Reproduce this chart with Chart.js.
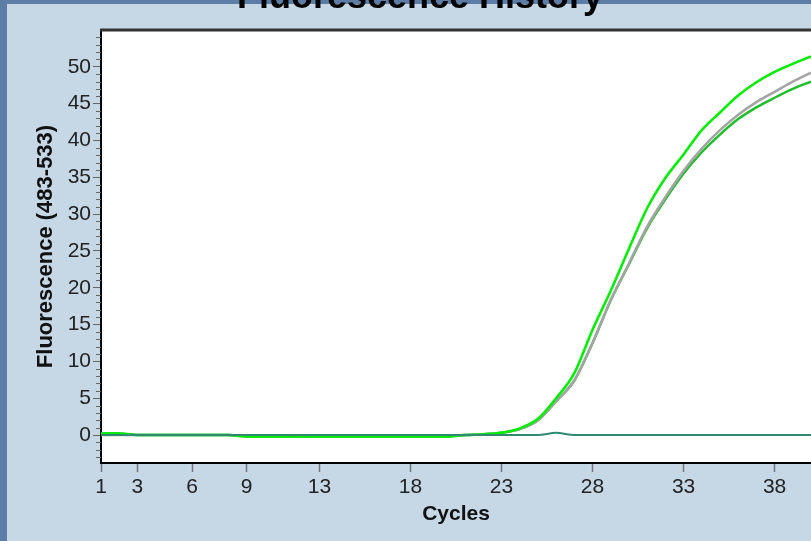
<!DOCTYPE html>
<html>
<head>
<meta charset="utf-8">
<script src="https://cdn.jsdelivr.net/npm/chart.js@4/dist/chart.umd.min.js"></script>
<style>
  html, body { margin: 0; padding: 0; background: #c6d7e6; }
  #wrap { width: 811px; height: 541px; }
</style>
</head>
<body>
<div id="wrap"><canvas id="fluoChart" width="811" height="541"></canvas></div>
<script>
// amplification curves, one value per cycle
const cycles = [];
for (let c = 1; c <= 40; c++) cycles.push(c);

const sampleA = [0.2, 0.2, 0, 0, 0, 0, 0, 0, -0.2, -0.2,
    -0.2, -0.2, -0.2, -0.2, -0.2, -0.2, -0.2, -0.2, -0.2, -0.2,
    0, 0.1, 0.3, 0.9, 2.2, 5.0, 8.4, 14.3, 19.6, 25.3,
    30.8, 34.9, 38.1, 41.4, 43.8, 46.1, 47.9, 49.3, 50.4, 51.4];
const sampleB = [0, 0, 0, 0, 0, 0, 0, 0, -0.1, -0.1,
    -0.1, -0.2, -0.1, -0.1, -0.1, -0.1, -0.1, -0.1, -0.1, -0.1,
    0, 0.1, 0.3, 0.8, 2.0, 4.6, 7.4, 12.5, 18.3, 23.3,
    28.3, 32.3, 35.9, 38.9, 41.4, 43.5, 45.2, 46.6, 48.0, 49.2];
const sampleC = [0.2, 0.2, 0, 0, 0, 0, 0, 0, -0.2, -0.2,
    -0.2, -0.2, -0.2, -0.2, -0.2, -0.2, -0.2, -0.2, -0.2, -0.2,
    0, 0.1, 0.3, 0.8, 2.0, 4.6, 7.4, 12.5, 18.3, 23.2,
    28.1, 32.0, 35.5, 38.4, 40.8, 42.9, 44.5, 45.8, 47.0, 48.0];
const negControl = [0, 0, 0, 0, 0, 0, 0, 0, 0, 0,
    0, 0, 0, 0, 0, 0, 0, 0, 0, 0,
    0, 0, 0, 0, 0, 0.3, 0, 0, 0, 0,
    0, 0, 0, 0, 0, 0, 0, 0, 0, 0];

const xTicks = [1, 3, 6, 9, 13, 18, 23, 28, 33, 38];
const yTicks = [0, 5, 10, 15, 20, 25, 30, 35, 40, 45, 50];

const FONT = "'Liberation Sans', Arial, sans-serif";

const toPoints = arr => arr.map((v, i) => ({ x: cycles[i], y: v }));

// panel background, title, plot frame and minor ticks
const panelPlugin = {
    id: 'panel',
    beforeDraw(chart) {
        const { ctx, chartArea: a, width, height } = chart;
        ctx.save();
        ctx.fillStyle = '#c6d7e6';
        ctx.fillRect(0, 0, width, height);
        ctx.fillStyle = '#5b7da6';
        ctx.fillRect(0, 0, 7, height);
        ctx.fillRect(0, 0, width, 4);
        ctx.fillStyle = '#ffffff';
        ctx.fillRect(a.left, a.top, a.right - a.left, a.bottom - a.top);
        ctx.fillStyle = '#000';
        ctx.font = 'bold 36px ' + FONT;
        ctx.textAlign = 'center';
        ctx.textBaseline = 'alphabetic';
        ctx.fillText('Fluorescence History', 420, 8);
        ctx.restore();
    },
    afterDraw(chart) {
        const { ctx, chartArea: a } = chart;
        const y = chart.scales.y;
        ctx.save();
        ctx.strokeStyle = '#333';
        ctx.lineWidth = 3;
        ctx.beginPath();
        ctx.moveTo(a.left - 1, a.top);
        ctx.lineTo(a.right + 2, a.top);
        ctx.stroke();
        ctx.strokeStyle = '#666';
        ctx.lineWidth = 1;
        for (let v = Math.ceil(y.min); v <= Math.floor(y.max); v++) {
            if (v % 5 === 0) continue;
            const py = Math.round(y.getPixelForValue(v)) + 0.5;
            ctx.beginPath();
            ctx.moveTo(a.left - 5, py);
            ctx.lineTo(a.left, py);
            ctx.stroke();
        }
        ctx.restore();
    }
};

new Chart(document.getElementById('fluoChart'), {
    type: 'line',
    data: {
        datasets: [
            {
                label: 'NTC',
                data: toPoints(negControl),
                borderColor: '#2f8a72',
                borderWidth: 2,
            },
            {
                label: 'Sample 1',
                data: toPoints(sampleA),
                borderColor: '#00ee00',
                borderWidth: 2.5,
            },
            {
                label: 'Sample 2',
                data: toPoints(sampleB),
                borderColor: '#a4a4a4',
                borderWidth: 2.5,
            },
            {
                label: 'Sample 3',
                data: toPoints(sampleC),
                borderColor: '#1fbf2a',
                borderWidth: 2.5,
            },
        ],
    },
    options: {
        responsive: false,
        animation: false,
        cubicInterpolationMode: 'monotone',
        elements: { point: { radius: 0 } },
        layout: { padding: { top: 30, right: 0, left: 0, bottom: 0 } },
        plugins: {
            legend: { display: false },
            tooltip: { enabled: false },
        },
        scales: {
            x: {
                type: 'linear',
                min: 1,
                max: 40,
                afterBuildTicks: scale => { scale.ticks = xTicks.map(v => ({ value: v })); },
                afterFit: scale => { scale.height = 78; },
                border: { color: '#000', width: 2 },
                grid: { drawOnChartArea: false, tickLength: 9, tickColor: '#777', tickWidth: 1.5 },
                ticks: {
                    color: '#222',
                    font: { family: FONT, size: 21 },
                    padding: 3,
                    maxRotation: 0,
                    autoSkip: false,
                },
                title: {
                    display: true,
                    text: 'Cycles',
                    color: '#111',
                    font: { family: FONT, size: 21, weight: 'bold' },
                    padding: { top: 0, bottom: 14 },
                },
            },
            y: {
                min: -3.8,
                max: 55,
                afterBuildTicks: scale => { scale.ticks = yTicks.map(v => ({ value: v })); },
                afterFit: scale => { scale.width = 101; },
                border: { color: '#000', width: 2 },
                grid: { drawOnChartArea: false, tickLength: 8, tickColor: '#666' },
                ticks: {
                    color: '#222',
                    font: { family: FONT, size: 21 },
                    padding: 2,
                },
                title: {
                    display: true,
                    text: 'Fluorescence (483-533)',
                    color: '#111',
                    font: { family: FONT, size: 22, weight: 'bold' },
                    padding: { top: 33, bottom: 0 },
                },
            },
        },
    },
    plugins: [panelPlugin],
});
</script>
</body>
</html>
